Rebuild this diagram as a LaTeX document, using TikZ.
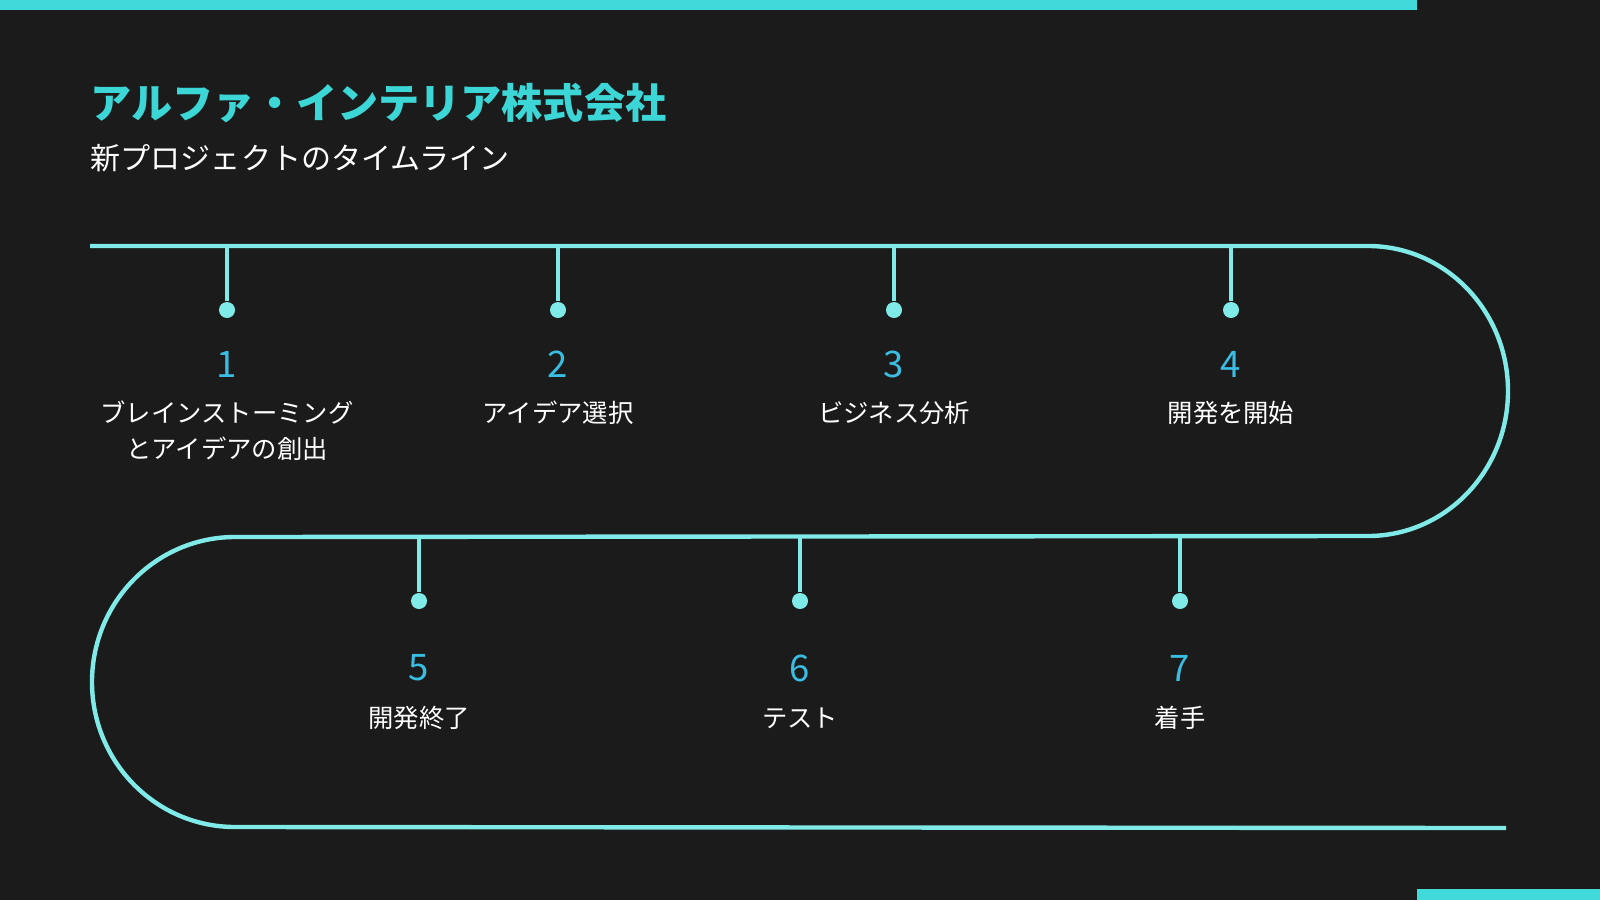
\documentclass[tikz,border=0pt]{standalone}
\usepackage{fontspec}
\setmainfont{Noto Sans CJK JP}
\usetikzlibrary{positioning}

\definecolor{bgC}{HTML}{1B1B1B}
\definecolor{barC}{HTML}{40DADA}
\definecolor{trackC}{HTML}{80EAE8}
\definecolor{titleC}{HTML}{3DD6D6}
\definecolor{numC}{HTML}{3BBDE3}

\begin{document}
\begin{tikzpicture}[
    x=0.01cm, y=-0.01cm,
    track/.style={draw=trackC, line width=1.25pt},
    stem/.style={draw=trackC, line width=1.1pt},
    dot/.style={circle, fill=trackC, inner sep=0pt, minimum size=0.16cm},
    num/.style={text=numC, font=\fontsize{10.4}{12}\selectfont, inner sep=0pt},
    lab/.style={text=white, align=center, font=\fontsize{7.2}{10.2}\selectfont, inner sep=0pt}
]

% Background and bars
\fill[bgC] (0,0) rectangle (1600,900);
\fill[barC] (0,0) rectangle (1417,10);
\fill[barC] (1417,889) rectangle (1600,900);

% Heading
\node[anchor=west, inner sep=0pt, text=titleC, font=\fontsize{11.7}{14}\selectfont\bfseries] (title) at (90,103) {アルファ・インテリア株式会社};
\node[anchor=west, inner sep=0pt, text=white, font=\fontsize{8.55}{10}\selectfont] (subtitle) at (90,158) {新プロジェクトのタイムライン};

% Track
\draw[track] (90,246) -- (1368,246)
    arc[start angle=-90, end angle=90, x radius=140, y radius=145]
    -- (235,537)
    arc[start angle=-90, end angle=-270, x radius=143, y radius=145]
    -- (1506,828);

% Milestones - upper row
\coordinate (t1) at (227,246);
\coordinate (t2) at (558,246);
\coordinate (t3) at (894,246);
\coordinate (t4) at (1231,246);
\node[dot] (d1) at (227,310) {};
\node[dot] (d2) at (558,310) {};
\node[dot] (d3) at (894,310) {};
\node[dot] (d4) at (1231,310) {};
\node[num] (n1) at (227,364) {1};
\node[num] (n2) at (558,364) {2};
\node[num] (n3) at (894,364) {3};
\node[num] (n4) at (1231,364) {4};
\node[lab] (l1) at (227,431) {ブレインストーミング\\とアイデアの創出};
\node[lab] (l2) at (558,413) {アイデア選択};
\node[lab] (l3) at (894,413) {ビジネス分析};
\node[lab] (l4) at (1231,413) {開発を開始};

% Milestones - lower row
\coordinate (t5) at (419,537);
\coordinate (t6) at (800,537);
\coordinate (t7) at (1180,537);
\node[dot] (d5) at (419,601) {};
\node[dot] (d6) at (800,601) {};
\node[dot] (d7) at (1180,601) {};
\node[num] (n5) at (419,668) {5};
\node[num] (n6) at (800,668) {6};
\node[num] (n7) at (1180,668) {7};
\node[lab] (l5) at (419,718) {開発終了};
\node[lab] (l6) at (800,718) {テスト};
\node[lab] (l7) at (1180,718) {着手};

% Stems
\draw[stem] (t1) -- (d1);
\draw[stem] (t2) -- (d2);
\draw[stem] (t3) -- (d3);
\draw[stem] (t4) -- (d4);
\draw[stem] (t5) -- (d5);
\draw[stem] (t6) -- (d6);
\draw[stem] (t7) -- (d7);

\end{tikzpicture}
\end{document}
